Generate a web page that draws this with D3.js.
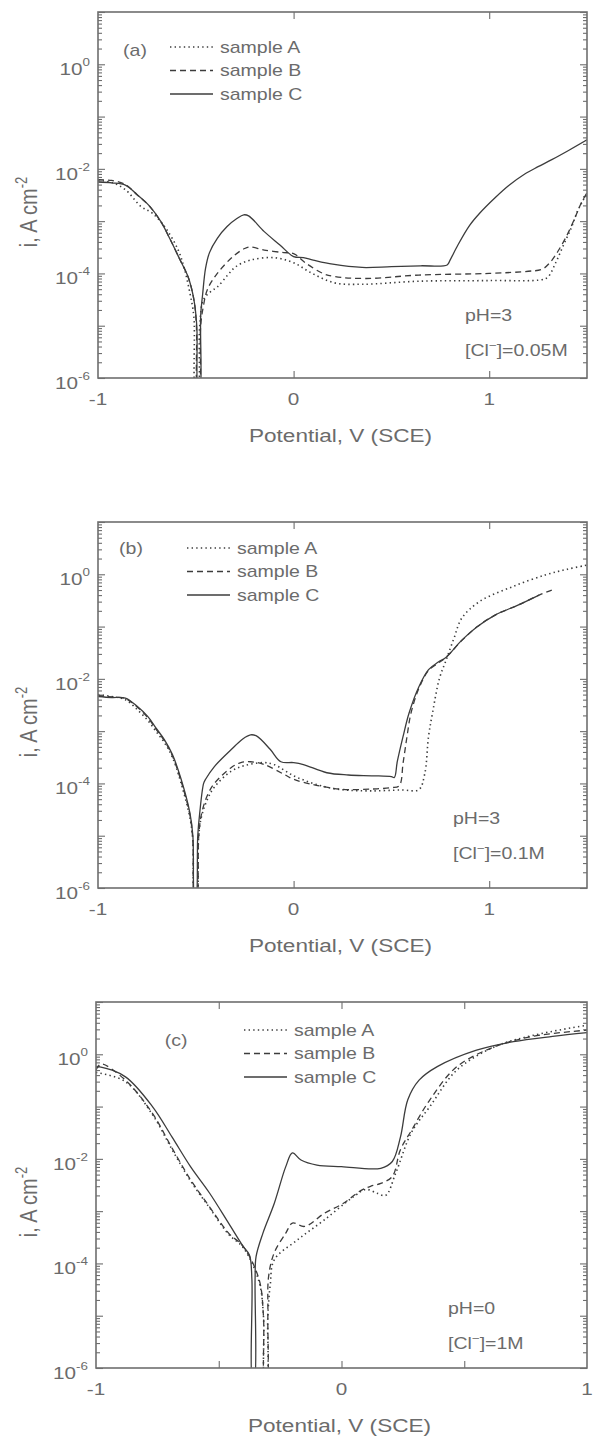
<!DOCTYPE html>
<html>
<head>
<meta charset="utf-8">
<script src="https://cdn.jsdelivr.net/npm/d3@7"></script>
<style>
  body { margin: 0; background: #fff; }
  svg { display: block; font-family: "Liberation Sans", Arial, sans-serif; }
</style>
</head>
<body>
<div id="chart"></div>
<script>
// ---- data: [potential V (SCE), current density A cm^-2] ----

// panel (a) pH=3, [Cl-]=0.05M
var sampleA_a = [[-1, 6.0e-3], [-0.93, 5.5e-3], [-0.86, 4.0e-3], [-0.78, 1.9e-3], [-0.72, 1.4e-3],
  [-0.65, 7.0e-4], [-0.59, 2.8e-4], [-0.56, 1.3e-4], [-0.53, 4.2e-5], [-0.51, 1.5e-5], [-0.5, 5e-7],
  [-0.49, 5e-7], [-0.48, 1.0e-5], [-0.46, 3.2e-5], [-0.42, 4.6e-5], [-0.39, 5.5e-5], [-0.34, 9.0e-5],
  [-0.295, 1.35e-4], [-0.22, 1.8e-4], [-0.1, 2.0e-4], [0, 1.6e-4], [0.095, 1.0e-4], [0.21, 6.6e-5],
  [0.35, 6.2e-5], [0.64, 7.1e-5], [1.0, 7.3e-5], [1.27, 7.6e-5], [1.3, 8.5e-5], [1.34, 1.6e-4],
  [1.38, 3.5e-4], [1.42, 7.5e-4], [1.45, 1.5e-3], [1.48, 2.5e-3], [1.5, 3.2e-3]];
var sampleB_a = [[-1, 6.2e-3], [-0.93, 6.0e-3], [-0.86, 5.0e-3], [-0.8, 3.2e-3], [-0.74, 2.0e-3],
  [-0.68, 1.0e-3], [-0.63, 4.4e-4], [-0.58, 1.8e-4], [-0.54, 8.7e-5], [-0.51, 3.2e-5], [-0.497, 1.0e-5],
  [-0.49, 5e-7], [-0.483, 5e-7], [-0.475, 1.0e-5], [-0.46, 2.5e-5], [-0.44, 5.0e-5], [-0.39, 1.0e-4],
  [-0.31, 2.1e-4], [-0.25, 3.0e-4], [-0.22, 3.2e-4], [-0.15, 2.8e-4], [-0.05, 2.5e-4], [0, 2.4e-4],
  [0.06, 1.6e-4], [0.15, 1.0e-4], [0.21, 8.7e-5], [0.37, 8.0e-5], [0.64, 9.3e-5], [1.0, 1.0e-4],
  [1.2, 1.1e-4], [1.27, 1.2e-4], [1.31, 1.6e-4], [1.35, 2.6e-4], [1.4, 5.6e-4], [1.44, 1.2e-3],
  [1.47, 2.2e-3], [1.5, 3.5e-3]];
var sampleC_a = [[-1, 5.6e-3], [-0.93, 5.4e-3], [-0.86, 4.9e-3], [-0.8, 3.2e-3], [-0.74, 2.0e-3],
  [-0.68, 1.0e-3], [-0.63, 4.4e-4], [-0.58, 1.8e-4], [-0.54, 8.7e-5], [-0.51, 3.2e-5], [-0.495, 1.0e-5],
  [-0.487, 5e-7], [-0.48, 5e-7], [-0.475, 1.6e-5], [-0.465, 4.0e-5], [-0.45, 1.26e-4], [-0.43, 2.5e-4],
  [-0.39, 4.7e-4], [-0.34, 7.9e-4], [-0.29, 1.12e-3], [-0.255, 1.32e-3], [-0.23, 1.26e-3],
  [-0.15, 6.3e-4], [-0.07, 3.5e-4], [0, 2.1e-4], [0.05, 2.0e-4], [0.1, 1.8e-4], [0.2, 1.5e-4],
  [0.35, 1.3e-4], [0.5, 1.35e-4], [0.65, 1.4e-4], [0.785, 1.45e-4], [0.8, 1.8e-4], [0.84, 3.5e-4],
  [0.9, 8.3e-4], [0.95, 1.4e-3], [1.03, 2.8e-3], [1.1, 4.8e-3], [1.18, 7.9e-3], [1.25, 1.1e-2],
  [1.32, 1.5e-2], [1.41, 2.3e-2], [1.5, 3.6e-2]];

// panel (b) pH=3, [Cl-]=0.1M
var sampleA_b = [[-1, 5.0e-3], [-0.93, 4.6e-3], [-0.86, 4.0e-3], [-0.8, 2.6e-3], [-0.745, 1.6e-3],
  [-0.7, 9.5e-4], [-0.66, 6.0e-4], [-0.62, 3.2e-4], [-0.575, 1.0e-4], [-0.53, 2.2e-5], [-0.515, 8e-6],
  [-0.505, 5e-7], [-0.497, 5e-7], [-0.485, 1.0e-5], [-0.47, 2.4e-5], [-0.44, 5.0e-5], [-0.405, 8.5e-5],
  [-0.32, 1.7e-4], [-0.25, 2.2e-4], [-0.15, 2.5e-4], [-0.1, 2.3e-4], [0, 1.4e-4], [0.1, 1.0e-4],
  [0.2, 8.0e-5], [0.28, 7.4e-5], [0.4, 7.2e-5], [0.55, 7.5e-5], [0.64, 7.6e-5], [0.67, 1.5e-4],
  [0.69, 8.0e-4], [0.71, 2.2e-3], [0.745, 1.0e-2], [0.78, 2.3e-2], [0.82, 6.0e-2], [0.86, 1.45e-1],
  [0.95, 3.0e-1], [1.12, 5.8e-1], [1.29, 9.8e-1], [1.4, 1.25], [1.5, 1.5]];
var sampleB_b = [[-1, 4.8e-3], [-0.93, 4.5e-3], [-0.86, 4.2e-3], [-0.8, 2.9e-3], [-0.745, 1.8e-3],
  [-0.7, 1.05e-3], [-0.66, 6.5e-4], [-0.62, 3.4e-4], [-0.575, 1.1e-4], [-0.53, 2.5e-5], [-0.515, 8e-6],
  [-0.505, 5e-7], [-0.497, 5e-7], [-0.485, 1.0e-5], [-0.47, 2.7e-5], [-0.44, 6.0e-5], [-0.405, 1.0e-4],
  [-0.32, 2.0e-4], [-0.27, 2.5e-4], [-0.22, 2.6e-4], [-0.15, 2.3e-4], [-0.05, 1.5e-4], [0, 1.2e-4],
  [0.1, 9.5e-5], [0.2, 8.1e-5], [0.28, 7.6e-5], [0.4, 7.8e-5], [0.5, 8.3e-5], [0.54, 9.0e-5],
  [0.56, 2.5e-4], [0.58, 8.0e-4], [0.6, 2.2e-3], [0.64, 6.5e-3], [0.69, 1.45e-2], [0.74, 2.0e-2],
  [0.78, 2.6e-2], [0.86, 5.4e-2], [0.94, 1.0e-1], [1.03, 1.66e-1], [1.15, 2.6e-1], [1.255, 4.0e-1],
  [1.32, 5.0e-1]];
var sampleC_b = [[-1, 4.6e-3], [-0.93, 4.4e-3], [-0.86, 4.3e-3], [-0.8, 3.0e-3], [-0.745, 1.9e-3],
  [-0.7, 1.1e-3], [-0.66, 6.8e-4], [-0.62, 3.6e-4], [-0.575, 1.2e-4], [-0.53, 2.7e-5], [-0.515, 1.0e-5],
  [-0.505, 5e-7], [-0.5, 5e-7], [-0.49, 1.0e-5], [-0.48, 2.7e-5], [-0.46, 1.0e-4], [-0.45, 1.2e-4],
  [-0.405, 2.1e-4], [-0.32, 4.4e-4], [-0.26, 7.1e-4], [-0.22, 8.5e-4], [-0.19, 8.1e-4], [-0.12, 4.5e-4],
  [-0.065, 2.6e-4], [0, 2.5e-4], [0.05, 2.3e-4], [0.17, 1.6e-4], [0.28, 1.45e-4], [0.4, 1.4e-4],
  [0.5, 1.35e-4], [0.515, 1.3e-4], [0.53, 2.6e-4], [0.56, 8.0e-4], [0.59, 2.2e-3], [0.64, 7.0e-3],
  [0.69, 1.5e-2], [0.74, 2.1e-2], [0.78, 2.6e-2], [0.86, 5.5e-2], [0.94, 1.0e-1], [1.03, 1.66e-1],
  [1.15, 2.6e-1], [1.255, 4.0e-1]];

// panel (c) pH=0, [Cl-]=1M
var sampleA_c = [[-1, 4.5e-1], [-0.88, 3.0e-1], [-0.77, 7.0e-2], [-0.69, 1.5e-2], [-0.615, 3.8e-3],
  [-0.537, 1.15e-3], [-0.46, 3.6e-4], [-0.4, 2.0e-4], [-0.336, 4.5e-5], [-0.318, 1.0e-5], [-0.312, 5e-7],
  [-0.305, 5e-7], [-0.3, 1.0e-5], [-0.29, 4.0e-5], [-0.274, 1.17e-4], [-0.18, 2.8e-4], [-0.07, 6.8e-4],
  [0.05, 1.9e-3], [0.1, 2.6e-3], [0.145, 2.2e-3], [0.18, 2.0e-3], [0.22, 5.2e-3], [0.285, 3.2e-2],
  [0.36, 1.0e-1], [0.47, 5.0e-1], [0.625, 1.4], [0.78, 2.3], [1.0, 3.6]];
var sampleB_c = [[-1, 5.0e-1], [-0.98, 6.5e-1], [-0.88, 3.2e-1], [-0.77, 7.4e-2], [-0.69, 1.6e-2],
  [-0.615, 4.0e-3], [-0.537, 1.2e-3], [-0.46, 3.8e-4], [-0.4, 2.1e-4], [-0.336, 5.0e-5], [-0.318, 1.0e-5],
  [-0.312, 5e-7], [-0.305, 5e-7], [-0.3, 1.0e-5], [-0.297, 5.6e-5], [-0.274, 1.6e-4], [-0.227, 3.8e-4],
  [-0.2, 5.9e-4], [-0.15, 5.1e-4], [-0.07, 9.1e-4], [0.006, 1.4e-3], [0.08, 2.5e-3], [0.12, 3.0e-3],
  [0.16, 3.4e-3], [0.207, 4.6e-3], [0.24, 1.5e-2], [0.285, 3.5e-2], [0.36, 1.35e-1], [0.47, 5.8e-1],
  [0.625, 1.4], [0.78, 2.2], [1.0, 2.9]];
var sampleC_c = [[-1, 5.6e-1], [-0.98, 5.7e-1], [-0.88, 3.7e-1], [-0.77, 1.0e-1], [-0.69, 2.6e-2],
  [-0.615, 7.1e-3], [-0.537, 2.2e-3], [-0.46, 5.9e-4], [-0.4, 2.1e-4], [-0.375, 1.45e-4], [-0.365, 5.0e-5],
  [-0.362, 5e-7], [-0.356, 5e-7], [-0.352, 5.0e-5], [-0.348, 1.35e-4], [-0.32, 3.8e-4], [-0.274, 1.4e-3],
  [-0.227, 7.1e-3], [-0.2, 1.3e-2], [-0.165, 9.5e-3], [-0.1, 7.6e-3], [0, 7.1e-3], [0.16, 6.6e-3],
  [0.207, 8.9e-3], [0.24, 2.6e-2], [0.27, 1.35e-1], [0.316, 3.2e-1], [0.39, 5.8e-1], [0.55, 1.2],
  [0.7, 1.74], [0.86, 2.2], [1.0, 2.6]];

var sampleNames = ["sample A", "sample B", "sample C"];
var panelTags = ["(a)", "(b)", "(c)"];
var phLabels = ["pH=3", "pH=3", "pH=0"];
var clLabels = ["0.05M", "0.1M", "1M"];
var xDomains = [[-1, 1.5], [-1, 1.5], [-1, 1]];
var xTickLabels = [[-1, 0, 1], [-1, 0, 1], [-1, 0, 1]];
var xTickMarks = [[0, 1], [0, 1], [-0.5, 0, 0.5]];
var yDomain = [1e-6, 10];
var yLabelExps = [0, -2, -4, -6];

var panelSeries = [
  [sampleA_a, sampleB_a, sampleC_a],
  [sampleA_b, sampleB_b, sampleC_b],
  [sampleA_c, sampleB_c, sampleC_c]
];

// ---- layout ----
var width = 595, height = 1439;
// the figure is a bit wider than tall, text gets the same stretch
var SX = 1.22;
var textColor = "#6b6b6b";
var frameColor = "#6e6e6e";
var lineColor = "#3c3c3c";
var dashes = ["1.4,3.2", "6,4", null];

var layout = [
  { left: 98, right: 587, top: 12, bottom: 378, legX: 170, legY: 47, tagX: 135, tagY: 50, noteX: 465, noteY: 315 },
  { left: 98, right: 587, top: 522, bottom: 888, legX: 187, legY: 548, tagX: 131, tagY: 548, noteX: 453, noteY: 818 },
  { left: 96, right: 587, top: 1002, bottom: 1368, legX: 244, legY: 1030, tagX: 176, tagY: 1040, noteX: 448, noteY: 1308 }
];

var svg = d3.select("#chart")
  .append("svg")
  .attr("width", width)
  .attr("height", height);

svg.append("rect").attr("width", width).attr("height", height).attr("fill", "#fff");

// text that carries the horizontal stretch of the original
function addText(g, x, y, size, anchor) {
  return g.append("text")
    .attr("transform", "translate(" + x + "," + y + ") scale(" + SX + ",1)")
    .attr("font-size", size)
    .attr("text-anchor", anchor || "start")
    .attr("fill", textColor);
}

// minor log ticks 2..9 in each decade
var minorTicks = [];
for (var e = -6; e < 1; e++) {
  for (var m = 2; m <= 9; m++) minorTicks.push(m * Math.pow(10, e));
}
var majorTicks = [];
for (var e2 = -6; e2 <= 1; e2++) majorTicks.push(Math.pow(10, e2));

layout.forEach(function(L, p) {
  var g = svg.append("g");

  var xScale = d3.scaleLinear().domain(xDomains[p]).range([L.left, L.right]);
  var yScale = d3.scaleLog().domain(yDomain).range([L.bottom, L.top]);

  // ticks on all four sides, pointing inward
  function styleAxis(sel) {
    sel.select(".domain").remove();
    sel.selectAll("line").attr("stroke", frameColor).attr("stroke-width", 1.1);
  }
  g.append("g").attr("transform", "translate(" + L.left + ",0)")
    .call(d3.axisLeft(yScale).tickValues(majorTicks).tickSize(-7).tickFormat(""))
    .call(styleAxis);
  g.append("g").attr("transform", "translate(" + L.left + ",0)")
    .call(d3.axisLeft(yScale).tickValues(minorTicks).tickSize(-4).tickFormat(""))
    .call(styleAxis);
  g.append("g").attr("transform", "translate(" + L.right + ",0)")
    .call(d3.axisRight(yScale).tickValues(majorTicks).tickSize(-7).tickFormat(""))
    .call(styleAxis);
  g.append("g").attr("transform", "translate(" + L.right + ",0)")
    .call(d3.axisRight(yScale).tickValues(minorTicks).tickSize(-4).tickFormat(""))
    .call(styleAxis);
  g.append("g").attr("transform", "translate(0," + L.bottom + ")")
    .call(d3.axisBottom(xScale).tickValues(xTickMarks[p]).tickSize(-7).tickFormat(""))
    .call(styleAxis);
  g.append("g").attr("transform", "translate(0," + L.top + ")")
    .call(d3.axisTop(xScale).tickValues(xTickMarks[p]).tickSize(-7).tickFormat(""))
    .call(styleAxis);

  // clip for the curves
  var clipId = "clip" + p;
  svg.append("clipPath").attr("id", clipId)
    .append("rect")
    .attr("x", L.left).attr("y", L.top)
    .attr("width", L.right - L.left).attr("height", L.bottom - L.top);

  var line = d3.line()
    .x(function(d) { return xScale(d[0]); })
    .y(function(d) { return yScale(d[1]); })
    .curve(d3.curveCatmullRom.alpha(0.5));

  var curves = g.append("g").attr("clip-path", "url(#" + clipId + ")");
  panelSeries[p].forEach(function(series, s) {
    curves.append("path")
      .attr("d", line(series))
      .attr("fill", "none")
      .attr("stroke", lineColor)
      .attr("stroke-width", s === 0 ? 1.6 : 1.3)
      .attr("stroke-dasharray", dashes[s]);
  });

  // frame
  g.append("rect")
    .attr("x", L.left).attr("y", L.top)
    .attr("width", L.right - L.left).attr("height", L.bottom - L.top)
    .attr("fill", "none")
    .attr("stroke", frameColor)
    .attr("stroke-width", 1.6);

  // y tick labels 10^n
  yLabelExps.forEach(function(ex) {
    var ty = yScale(Math.pow(10, ex));
    var t = addText(g, L.left - 8, ty + 11, 17, "end");
    t.append("tspan").text("10");
    t.append("tspan").attr("font-size", 11).attr("dy", -9).text(ex === 0 ? "0" : "-" + (-ex));
  });

  // x tick labels
  xTickLabels[p].forEach(function(v) {
    addText(g, xScale(v), L.bottom + 27, 17, "middle").text(v);
  });

  // axis titles
  addText(g, (L.left + L.right) / 2 - 2, L.bottom + 64, 18.5, "middle").text("Potential, V (SCE)");

  var yl = g.append("text")
    .attr("transform", "translate(" + 37 + "," + ((L.top + L.bottom) / 2 + 17) + ") rotate(-90) scale(1," + SX + ")")
    .attr("font-size", 20)
    .attr("text-anchor", "middle")
    .attr("fill", textColor);
  yl.append("tspan").text("i, A cm");
  yl.append("tspan").attr("font-size", 13).attr("dy", -8).text("-2");

  // panel tag
  addText(g, L.tagX, L.tagY + 6, 16, "middle").text(panelTags[p]);

  // legend
  sampleNames.forEach(function(name, s) {
    var ly = L.legY + s * 23.5;
    g.append("line")
      .attr("x1", L.legX).attr("x2", L.legX + 43)
      .attr("y1", ly).attr("y2", ly)
      .attr("stroke", lineColor)
      .attr("stroke-width", s === 0 ? 1.6 : 1.3)
      .attr("stroke-dasharray", dashes[s]);
    addText(g, L.legX + 50, ly + 5.5, 16, "start").text(name);
  });

  // conditions
  addText(g, L.noteX, L.noteY + 6, 16, "start").text(phLabels[p]);
  var cl = addText(g, L.noteX, L.noteY + 41, 16, "start");
  cl.append("tspan").text("[Cl");
  cl.append("tspan").attr("font-size", 11).attr("dy", -7).text("\u2212");
  cl.append("tspan").attr("dy", 7).text("]=" + clLabels[p]);
});
</script>
</body>
</html>
